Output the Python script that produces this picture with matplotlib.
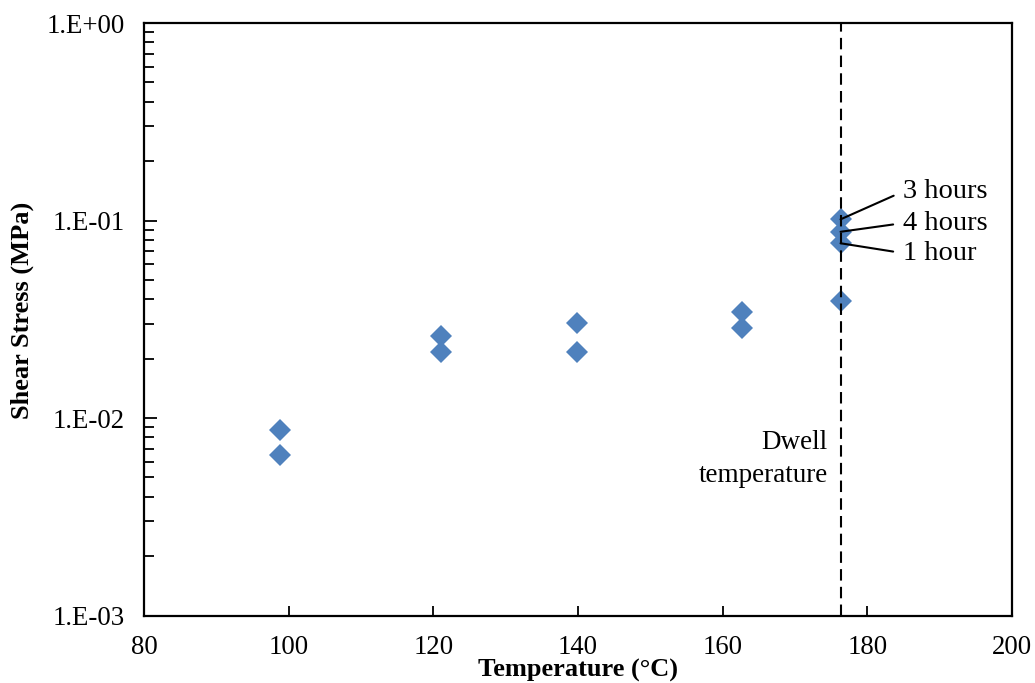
import matplotlib
matplotlib.use("Agg")
import matplotlib.pyplot as plt
from matplotlib.ticker import FixedLocator, FixedFormatter, LogLocator, NullFormatter

plt.rcParams["font.family"] = ["Liberation Serif", "DejaVu Serif"]
plt.rcParams["font.size"] = 19.3

# shear stress measured at each test temperature
temps = [98.8, 98.8, 121.1, 121.1, 139.9, 139.9, 162.7, 162.7, 176.4]
stress = [0.0087, 0.0065, 0.0261, 0.0217, 0.0304, 0.0215, 0.0343, 0.0284, 0.0393]

# dwell-time runs at the dwell temperature
dwell_temp = 176.4
dwell_x = [176.3, 176.3, 176.3]
dwell_stress = [0.1014, 0.0877, 0.0767]
dwell_labels = ["3 hours", "4 hours", "1 hour"]
dwell_text_y = [0.14, 0.097, 0.0684]

y_ticks = [1e-3, 1e-2, 1e-1, 1e0]
y_tick_labels = ["1.E-03", "1.E-02", "1.E-01", "1.E+00"]
x_ticks = [80, 100, 120, 140, 160, 180, 200]

blue = "#4F81BD"

fig = plt.figure(figsize=(10.35, 6.83), dpi=100)
ax = fig.add_axes([0.1391, 0.0988, 0.8387, 0.8675])

ax.plot(temps, stress, linestyle="none", marker="D", markersize=11.5,
        color=blue, markeredgewidth=0, zorder=3)
ax.plot(dwell_x, dwell_stress, linestyle="none", marker="D", markersize=11.5,
        color=blue, markeredgewidth=0, zorder=3)

ax.axvline(dwell_temp, color="black", linewidth=1.5, linestyle=(0, (5.5, 3)), zorder=4)

for xv, yv, lab, ty in zip(dwell_x, dwell_stress, dwell_labels, dwell_text_y):
    ax.annotate(lab, xy=(xv, yv), xytext=(184.9, ty), ha="left", va="center",
                fontsize=20.5,
                arrowprops=dict(arrowstyle="-", color="black", lw=1.5,
                                shrinkA=5, shrinkB=0, relpos=(0, 0.5)),
                zorder=5)

ax.text(174.5, 0.0062, "Dwell\ntemperature", ha="right", va="center",
        fontsize=19.5, linespacing=1.45)

ax.set_yscale("log")
ax.set_xlim(80, 200)
ax.set_ylim(1e-3, 1e0)

ax.xaxis.set_major_locator(FixedLocator(x_ticks))
ax.yaxis.set_major_locator(FixedLocator(y_ticks))
ax.yaxis.set_major_formatter(FixedFormatter(y_tick_labels))
ax.yaxis.set_minor_locator(LogLocator(base=10, subs=range(2, 10)))
ax.yaxis.set_minor_formatter(NullFormatter())

ax.tick_params(axis="x", which="major", direction="in", length=7, width=1.3,
               pad=14, top=False)
ax.tick_params(axis="y", which="major", direction="in", length=9, width=1.3,
               pad=14, right=False)
ax.tick_params(axis="y", which="minor", direction="in", length=7, width=1.3,
               right=False)

for sp in ax.spines.values():
    sp.set_linewidth(1.6)

ax.set_xlabel("Temperature (°C)", fontweight="bold", fontsize=19)
ax.xaxis.set_label_coords(0.5, -0.093)
ax.xaxis.label.set_va("center")
ax.set_ylabel("Shear Stress (MPa)", fontweight="bold", fontsize=19)
ax.yaxis.set_label_coords(-0.1399, 0.515)
ax.yaxis.label.set_va("center")

fig.savefig("out.png", dpi=100)
